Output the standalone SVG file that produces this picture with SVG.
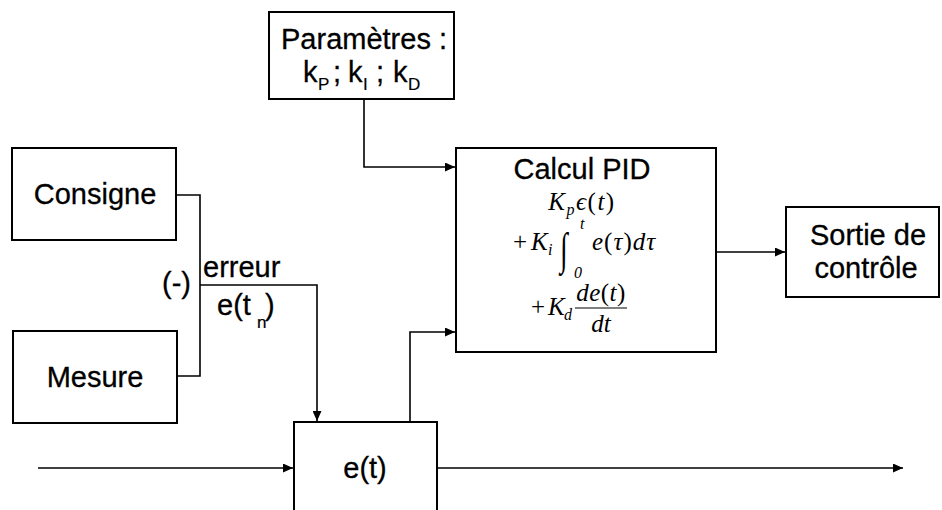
<svg xmlns="http://www.w3.org/2000/svg" width="942" height="510" viewBox="0 0 942 510">
<style>
.box{fill:#fff;stroke:#000;stroke-width:2}
.lbl{font-family:"Liberation Sans",Arial,sans-serif;font-size:29px;fill:#000;stroke:#000;stroke-width:0.3}
.sub{font-family:"Liberation Sans",Arial,sans-serif;font-size:17px;fill:#000;stroke:#000;stroke-width:0.2}
.m{font-family:"Liberation Serif","Times New Roman",serif;font-style:italic;font-size:25px;fill:#000}
.mu{font-family:"Liberation Serif","Times New Roman",serif;font-size:25px;fill:#000}
.ms{font-family:"Liberation Serif","Times New Roman",serif;font-style:italic;font-size:16px;fill:#000}
.conn{fill:none;stroke:#000;stroke-width:1.6}
</style>
<defs>
<marker id="arr" markerUnits="userSpaceOnUse" markerWidth="11" markerHeight="9" refX="10" refY="4.5" orient="auto">
<path d="M0,0 L10,4.5 L0,9 z" fill="#000"/>
</marker>
</defs>
<g id="connectors">
<path class="conn" d="M364,100 V167 H455" marker-end="url(#arr)"/>
<path class="conn" d="M176,195 H200 V376 H177"/>
<path class="conn" d="M200,285 H317 V421" marker-end="url(#arr)"/>
<path class="conn" d="M410,422 V332 H455" marker-end="url(#arr)"/>
<path class="conn" d="M716,252 H785" marker-end="url(#arr)"/>
<path class="conn" d="M38,468 H293" marker-end="url(#arr)"/>
<path class="conn" d="M437,468 H903" marker-end="url(#arr)"/>
</g>
<g id="params">
<rect class="box" x="269" y="12" width="185" height="87"/>
<text class="lbl" x="364" y="49" text-anchor="middle">Paramètres :</text>
<text class="lbl" x="303" y="82">k</text><text class="sub" x="318" y="90">P</text>
<text class="lbl" x="333" y="82">;</text>
<text class="lbl" x="348" y="82">k</text><text class="sub" x="363" y="90">I</text>
<text class="lbl" x="376" y="82">;</text>
<text class="lbl" x="393" y="82">k</text><text class="sub" x="408" y="90">D</text>
</g>
<g id="consigne">
<rect class="box" x="12" y="148" width="164" height="92"/>
<text class="lbl" x="95" y="204" text-anchor="middle">Consigne</text>
</g>
<g id="mesure">
<rect class="box" x="13" y="331" width="164" height="92"/>
<text class="lbl" x="95" y="387" text-anchor="middle">Mesure</text>
</g>
<g id="erreur-label">
<text class="lbl" x="191" y="293" text-anchor="end">(-)</text>
<text class="lbl" x="203" y="277">erreur</text>
<text class="lbl" x="217" y="315">e(t</text>
<text class="sub" x="257" y="328">n</text>
<text class="lbl" x="265" y="315">)</text>
</g>
<g id="pid">
<rect class="box" x="456" y="148" width="260" height="204"/>
<text class="lbl" x="582" y="179" text-anchor="middle">Calcul PID</text>
<text class="m" x="582" y="210" text-anchor="middle" letter-spacing="1.5">K<tspan class="ms" dy="5">p</tspan><tspan dy="-5">ϵ</tspan><tspan font-style="normal">(</tspan>t<tspan font-style="normal">)</tspan></text>
<text class="mu" x="513" y="250">+</text>
<text class="m" x="531" y="250">K</text><text class="ms" x="548" y="255">i</text>
<text class="mu" transform="translate(560,264) scale(1.1,1.8)" font-size="44">∫</text>
<text class="ms" x="580" y="229">t</text>
<text class="ms" x="574" y="278" font-style="normal">0</text>
<text class="m" x="592" y="250" letter-spacing="1">e<tspan font-style="normal">(</tspan>τ<tspan font-style="normal">)</tspan>dτ</text>
<text class="mu" x="531" y="315">+</text>
<text class="m" x="548" y="315">K</text><text class="ms" x="564" y="320">d</text>
<text class="m" x="601" y="301" text-anchor="middle" letter-spacing="0.5">de<tspan font-style="normal">(</tspan>t<tspan font-style="normal">)</tspan></text>
<line x1="575" y1="308" x2="627" y2="308" stroke="#000" stroke-width="1.2"/>
<text class="m" x="601" y="332" text-anchor="middle">dt</text>
</g>
<g id="sortie">
<rect class="box" x="786" y="207" width="153" height="90"/>
<text class="lbl" x="868" y="245" text-anchor="middle">Sortie de</text>
<text class="lbl" x="866" y="278" text-anchor="middle">contrôle</text>
</g>
<g id="et">
<rect class="box" x="294" y="422" width="143" height="100"/>
<text class="lbl" x="365" y="478" text-anchor="middle">e(t)</text>
</g>
</svg>
